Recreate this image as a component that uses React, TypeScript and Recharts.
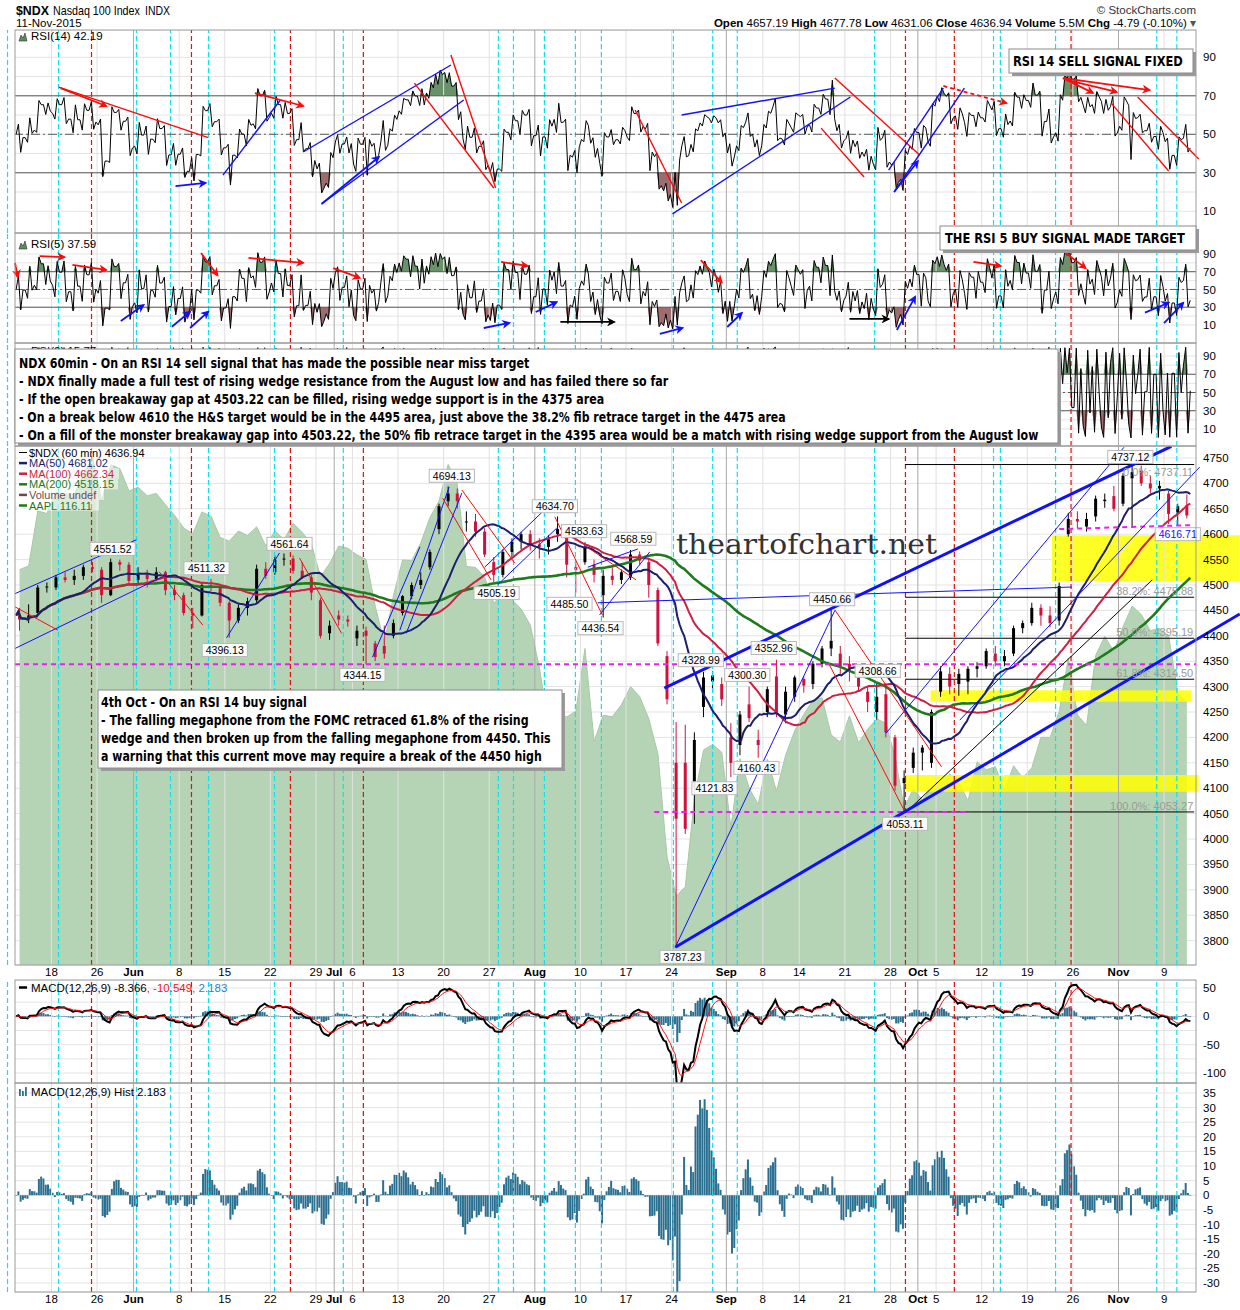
import React from 'react';
import {
  ComposedChart, Line, Area, Bar, XAxis, YAxis, CartesianGrid,
  ReferenceLine, ReferenceArea, ReferenceDot,
} from 'recharts';

// ---------------- DATA (daily sessions, 12-May-2015 .. 11-Nov-2015) ----------------
const dayDates = (
  '05-12 05-13 05-14 05-15 05-18 05-19 05-20 05-21 05-22 05-26 05-27 05-28 05-29 ' +
  '06-01 06-02 06-03 06-04 06-05 06-08 06-09 06-10 06-11 06-12 06-15 06-16 06-17 06-18 06-19 06-22 06-23 06-24 06-25 06-26 06-29 06-30 ' +
  '07-01 07-02 07-06 07-07 07-08 07-09 07-10 07-13 07-14 07-15 07-16 07-17 07-20 07-21 07-22 07-23 07-24 07-27 07-28 07-29 07-30 07-31 ' +
  '08-03 08-04 08-05 08-06 08-07 08-10 08-11 08-12 08-13 08-14 08-17 08-18 08-19 08-20 08-21 08-24 08-25 08-26 08-27 08-28 08-31 ' +
  '09-01 09-02 09-03 09-04 09-08 09-09 09-10 09-11 09-14 09-15 09-16 09-17 09-18 09-21 09-22 09-23 09-24 09-25 09-28 09-29 09-30 ' +
  '10-01 10-02 10-05 10-06 10-07 10-08 10-09 10-12 10-13 10-14 10-15 10-16 10-19 10-20 10-21 10-22 10-23 10-26 10-27 10-28 10-29 10-30 ' +
  '11-02 11-03 11-04 11-05 11-06 11-09 11-10 11-11'
).split(' ');

const opens = [4440,4432,4445,4495,4495,4515,4510,4518,4535,4530,4480,4545,4540,
  4510,4520,4512,4525,4490,4480,4445,4440,4500,4495,4465,4430,4455,4470,4532,4525,4550,4552,4528,4515,4470,4405,
  4440,4432,4395,4410,4385,4380,4400,4445,4478,4500,4535,4610,4665,4680,4625,4625,4605,4545,4520,4565,4585,4600,
  4580,4575,4600,4610,4535,4545,4540,4480,4518,4510,4515,4560,4545,4490,4360,4150,4150,4100,4260,4310,4305,
  4200,4185,4265,4195,4250,4320,4245,4280,4315,4305,4345,4375,4365,4345,4320,4290,4250,4285,4200,4110,4140,
  4170,4150,4290,4325,4305,4310,4335,4340,4365,4350,4365,4415,4425,4455,4440,4430,4600,4630,4615,4635,4665,4675,
  4660,4710,4725,4700,4690,4680,4640,4657];
const highs = [4455,4462,4500,4505,4520,4525,4530,4540,4545,4535,4552,4550,4545,
  4535,4530,4535,4528,4500,4485,4455,4505,4512,4498,4468,4462,4475,4540,4545,4558,4562,4558,4545,4520,4475,4430,
  4450,4440,4420,4418,4390,4420,4432,4480,4505,4525,4570,4660,4694,4690,4645,4640,4612,4555,4570,4592,4605,4608,
  4592,4598,4635,4615,4545,4584,4550,4530,4535,4530,4569,4566,4552,4495,4370,4230,4225,4210,4329,4330,4318,
  4228,4252,4300,4215,4300,4353,4300,4322,4320,4350,4380,4451,4380,4360,4330,4300,4309,4300,4205,4135,4180,
  4185,4255,4340,4338,4335,4340,4348,4375,4380,4372,4420,4430,4465,4462,4458,4505,4642,4645,4642,4676,4680,4695,
  4720,4737,4735,4715,4705,4685,4660,4678];
const lows = [4410,4425,4442,4485,4490,4505,4500,4510,4525,4465,4478,4528,4500,
  4500,4495,4508,4480,4470,4440,4415,4438,4488,4458,4396,4425,4440,4465,4512,4520,4538,4522,4512,4470,4395,4392,
  4420,4418,4380,4344,4350,4355,4395,4440,4472,4492,4530,4600,4655,4650,4605,4595,4555,4505,4515,4555,4570,4568,
  4552,4560,4585,4515,4485,4540,4505,4436,4500,4502,4510,4540,4475,4380,4265,3787,4010,4030,4240,4290,4262,
  4122,4165,4230,4160,4240,4240,4228,4270,4288,4295,4338,4360,4325,4310,4290,4250,4235,4200,4095,4053,4130,
  4135,4140,4280,4285,4282,4285,4318,4335,4340,4340,4360,4405,4420,4420,4417,4420,4595,4612,4605,4625,4652,4645,
  4655,4612,4695,4680,4668,4620,4618,4631];
const closes = [4432,4440,4495,4497,4515,4510,4518,4535,4532,4480,4545,4540,4508,
  4520,4512,4525,4490,4480,4445,4440,4500,4495,4465,4430,4455,4468,4532,4518,4550,4552,4528,4515,4485,4400,4420,
  4432,4428,4410,4400,4358,4365,4425,4478,4500,4510,4565,4655,4680,4665,4625,4605,4560,4520,4565,4585,4600,4580,
  4575,4590,4610,4540,4530,4575,4520,4518,4510,4525,4560,4548,4500,4385,4275,4040,4020,4195,4318,4322,4275,
  4150,4245,4238,4185,4295,4248,4290,4318,4302,4345,4375,4390,4340,4335,4300,4270,4280,4210,4105,4120,4170,
  4180,4250,4330,4300,4325,4335,4340,4370,4350,4360,4415,4425,4455,4440,4425,4498,4630,4625,4630,4670,4668,4650,
  4715,4722,4700,4690,4695,4640,4655,4637];
const aaplCloses = [125.01,125.26,128.95,128.77,130.19,130.07,130.06,131.39,132.54,129.62,132.04,131.78,130.28,
  130.54,129.96,130.12,129.36,128.65,127.80,127.42,128.88,128.59,127.17,126.92,127.60,127.30,127.88,126.60,127.61,127.03,128.11,127.50,126.75,124.53,125.43,
  126.60,126.44,126.00,125.69,122.57,120.07,123.28,125.66,125.61,126.82,128.51,129.62,132.07,130.75,125.22,125.16,124.50,122.77,123.38,122.99,122.37,121.30,
  118.44,114.64,115.40,115.13,115.52,119.72,113.49,115.24,115.15,115.96,117.16,116.50,115.01,112.65,105.76,103.12,103.74,109.69,112.92,113.29,112.76,
  107.72,112.34,110.37,109.27,112.31,110.15,112.57,114.21,115.31,116.28,116.41,113.92,113.45,115.21,113.40,114.32,115.00,114.71,112.44,109.06,110.30,
  109.58,110.38,110.78,111.31,110.78,109.50,112.12,111.60,111.79,110.21,111.86,111.04,111.73,113.77,113.76,115.50,119.08,115.28,114.55,119.27,120.53,119.50,
  121.18,122.57,122.00,120.92,121.06,120.57,116.77,116.11];

// date axis (session index where the label sits) and labels
const dateTicks = [4,9,13,18,23,28,33,35,37,42,47,52,57,62,67,72,78,82,86,91,96,99,101,106,111,116,121,126];
const dateTickLabels = ['18','26','Jun','8','15','22','29','Jul','6','13','20','27','Aug','10','17','24','Sep','8','14','21','28','Oct','5','12','19','26','Nov','9'];
const monthTicks = [13,35,57,78,99,121];
const cyanMarks = [-0.82,4.77,13.32,17.05,21.22,28.45,36.0,53.0,54.66,58.05,61.45,64.3,72.2,76.5,79.2,94.25,107.3,108.05,114.1,125.2,127.4];
const redMarks = [8.39,19.35,30.2,38.2,97.64,103.0,115.8];

const priceTicks = [3800,3850,3900,3950,4000,4050,4100,4150,4200,4250,4300,4350,4400,4450,4500,4550,4600,4650,4700,4750];
const rsiTicks = [10,20,30,40,50,60,70,80,90];
const macdTicks = [-100,-75,-50,-25,0,25,50];
const histTicks = [-30,-25,-20,-15,-10,-5,0,5,10,15,20,25,30,35];

// annotations (session index, value); k: r=red b=blue k=black, a=arrow, d=dashed
const wedgeLines = [
  { x1: 72.4, y1: 3787, x2: 134.3, y2: 4443, k: 'b' },
  { x1: 71.2, y1: 4297, x2: 126.8, y2: 4773, k: 'b' },
];
const mainThinLines = [
  { x1: 72.4, y1: 3787, x2: 89.9, y2: 4450, k: 'b' },
  { x1: 0, y1: 4483, x2: 13.3, y2: 4589, k: 'b' },
  { x1: 0, y1: 4375, x2: 16.6, y2: 4520, k: 'b' },
  { x1: 23.2, y1: 4396, x2: 29.0, y2: 4563, k: 'b' },
  { x1: 39.2, y1: 4358, x2: 44.4, y2: 4575, k: 'b' },
  { x1: 42.2, y1: 4411, x2: 47.6, y2: 4693, k: 'b' },
  { x1: 42.9, y1: 4405, x2: 49.0, y2: 4681, k: 'b' },
  { x1: 51.5, y1: 4535, x2: 58.3, y2: 4652, k: 'b' },
  { x1: 52.9, y1: 4500, x2: 59.4, y2: 4612, k: 'b' },
  { x1: 62.8, y1: 4535, x2: 68.3, y2: 4571, k: 'b' },
  { x1: 64.1, y1: 4441, x2: 69.6, y2: 4565, k: 'b' },
  { x1: 63.9, y1: 4465, x2: 115.9, y2: 4496, k: 'b' },
  { x1: 95.5, y1: 4208, x2: 121.6, y2: 4771, k: 'b' },
  { x1: 103.6, y1: 4234, x2: 129.9, y2: 4732, k: 'b' },
  { x1: 97.6, y1: 4051, x2: 124.7, y2: 4510, k: 'k' },
  { x1: 0, y1: 4457, x2: 4.7, y2: 4411, k: 'r' },
  { x1: 15.8, y1: 4526, x2: 20.6, y2: 4421, k: 'r' },
  { x1: 31.2, y1: 4553, x2: 35.8, y2: 4405, k: 'r' },
  { x1: 46.9, y1: 4671, x2: 52.2, y2: 4510, k: 'r' },
  { x1: 49.0, y1: 4687, x2: 54.8, y2: 4543, k: 'r' },
  { x1: 59.2, y1: 4634, x2: 64.4, y2: 4441, k: 'r' },
  { x1: 62.7, y1: 4575, x2: 68.1, y2: 4510, k: 'r' },
  { x1: 89.9, y1: 4451, x2: 101.6, y2: 4142, k: 'r' },
  { x1: 89.3, y1: 4343, x2: 97.6, y2: 4053, k: 'r' },
];
const magentaLines = [
  { x1: 0, y1: 4344.15, x2: 129.5, y2: 4344.15 },
  { x1: 70.1, y1: 4053, x2: 104.7, y2: 4053 },
  { x1: 114.5, y1: 4610, x2: 129.3, y2: 4618 },
];
const yellowZones = [
  { x1: 113.7, x2: 134.3, y1: 4508, y2: 4598 },
  { x1: 100.4, x2: 129.0, y1: 4270, y2: 4293 },
  { x1: 97.6, x2: 129.8, y1: 4093, y2: 4126 },
];
const fibStart = 97.6, fibEnd = 129.3;
const fibLevels = [4737.11, 4475.88, 4395.19, 4314.50, 4053.27];
const fibTexts = ['0.0%: 4737.11', '38.2%: 4475.88', '50.0%: 4395.19', '61.8%: 4314.50', '100.0%: 4053.27'];
const fibBelow = [true, false, false, false, false];
const priceTags = [
  { x: 10.7, y: 4571, t: '4551.52' }, { x: 21.0, y: 4533, t: '4511.32' }, { x: 23.0, y: 4372, t: '4396.13' },
  { x: 30.1, y: 4581, t: '4561.64' }, { x: 38.1, y: 4323, t: '4344.15' }, { x: 47.9, y: 4715, t: '4694.13' },
  { x: 52.8, y: 4484, t: '4505.19' }, { x: 59.2, y: 4655, t: '4634.70' }, { x: 62.4, y: 4606, t: '4583.63' },
  { x: 60.8, y: 4463, t: '4485.50' }, { x: 64.2, y: 4415, t: '4436.54' }, { x: 67.8, y: 4591, t: '4568.59' },
  { x: 75.2, y: 4352, t: '4328.99' }, { x: 80.3, y: 4323, t: '4300.30' }, { x: 83.2, y: 4376, t: '4352.96' },
  { x: 89.6, y: 4472, t: '4450.66' }, { x: 94.6, y: 4331, t: '4308.66' }, { x: 81.3, y: 4140, t: '4160.43' },
  { x: 76.7, y: 4100, t: '4121.83' }, { x: 73.2, y: 3768, t: '3787.23' }, { x: 97.6, y: 4030, t: '4053.11' },
  { x: 122.3, y: 4752, t: '4737.12' },
];
const rsi14Marks = [
  { x1: 4.8, y1: 74.5, x2: 21.2, y2: 48.3, k: 'r' },
  { x1: 5.0, y1: 74.0, x2: 10.0, y2: 64.7, k: 'r', a: 1 },
  { x1: 17.6, y1: 23.1, x2: 20.9, y2: 24.7, k: 'b', a: 1 },
  { x1: 22.8, y1: 28.8, x2: 29.1, y2: 67.8, k: 'b' },
  { x1: 26.3, y1: 71.4, x2: 31.6, y2: 64.7, k: 'r', a: 1 },
  { x1: 31.6, y1: 40.8, x2: 47.8, y2: 86.0, k: 'b' },
  { x1: 33.6, y1: 13.8, x2: 49.2, y2: 67.8, k: 'b' },
  { x1: 33.6, y1: 13.8, x2: 39.9, y2: 38.2, k: 'b', a: 1 },
  { x1: 47.8, y1: 91.2, x2: 52.7, y2: 22.1, k: 'r' },
  { x1: 43.8, y1: 76.6, x2: 52.5, y2: 22.1, k: 'r' },
  { x1: 68.0, y1: 62.6, x2: 73.1, y2: 14.3, k: 'r' },
  { x1: 72.1, y1: 8.6, x2: 91.6, y2: 69.4, k: 'b' },
  { x1: 73.1, y1: 60.0, x2: 89.9, y2: 74.0, k: 'b' },
  { x1: 89.9, y1: 79.2, x2: 99.2, y2: 39.2, k: 'r' },
  { x1: 88.4, y1: 53.2, x2: 93.1, y2: 27.8, k: 'r' },
  { x1: 95.8, y1: 31.4, x2: 101.8, y2: 74.0, k: 'b' },
  { x1: 96.4, y1: 20.0, x2: 104.1, y2: 74.0, k: 'b' },
  { x1: 96.4, y1: 20.0, x2: 99.0, y2: 36.0, k: 'b', a: 1 },
  { x1: 101.8, y1: 75.1, x2: 108.7, y2: 66.2, k: 'r', a: 1, d: 1 },
  { x1: 114.9, y1: 79.2, x2: 124.4, y2: 73.0, k: 'r', a: 1 },
  { x1: 114.9, y1: 79.2, x2: 118.2, y2: 71.5, k: 'r', a: 1 },
  { x1: 115.5, y1: 78.0, x2: 120.8, y2: 72.0, k: 'r', a: 1 },
  { x1: 120.2, y1: 66.2, x2: 126.5, y2: 30.9, k: 'r' },
  { x1: 123.1, y1: 69.4, x2: 129.8, y2: 37.1, k: 'r' },
];
const rsi5Marks = [
  { x1: 0, y1: 80, x2: 0.3, y2: 64, k: 'r', a: 1 },
  { x1: 2.7, y1: 87.5, x2: 5.4, y2: 86.5, k: 'r', a: 1 },
  { x1: 6.3, y1: 77.6, x2: 10.0, y2: 72, k: 'r', a: 1 },
  { x1: 11.6, y1: 14.5, x2: 14.1, y2: 32.5, k: 'b', a: 1 },
  { x1: 17.2, y1: 8, x2: 19.2, y2: 25, k: 'b', a: 1 },
  { x1: 19.2, y1: 6.6, x2: 21.2, y2: 25, k: 'b', a: 1 },
  { x1: 20.4, y1: 91, x2: 22.2, y2: 66, k: 'r', a: 1 },
  { x1: 25.6, y1: 85.5, x2: 31.6, y2: 80, k: 'r', a: 1 },
  { x1: 34.9, y1: 74, x2: 37.8, y2: 63, k: 'r', a: 1 },
  { x1: 51.4, y1: 6.6, x2: 54.2, y2: 12.3, k: 'b', a: 1 },
  { x1: 53.3, y1: 81, x2: 56.2, y2: 76.5, k: 'r', a: 1 },
  { x1: 57.1, y1: 24.6, x2: 59.4, y2: 35.8, k: 'b', a: 1 },
  { x1: 59.8, y1: 13.4, x2: 65.7, y2: 13.4, k: 'k', a: 1 },
  { x1: 70.7, y1: 0, x2: 73.2, y2: 6.6, k: 'b', a: 1 },
  { x1: 75.2, y1: 83, x2: 77.5, y2: 58, k: 'r', a: 1 },
  { x1: 78.1, y1: 7.7, x2: 79.7, y2: 23.5, k: 'b', a: 1 },
  { x1: 91.5, y1: 16.8, x2: 95.8, y2: 16.8, k: 'k', a: 1 },
  { x1: 96.7, y1: 4.4, x2: 98.7, y2: 41.6, k: 'b', a: 1 },
  { x1: 105.1, y1: 81, x2: 108.1, y2: 76.5, k: 'r', a: 1 },
  { x1: 115.1, y1: 92, x2: 117.4, y2: 74, k: 'r', a: 1 },
  { x1: 123.9, y1: 24, x2: 126.5, y2: 35, k: 'b', a: 1 },
  { x1: 126.0, y1: 12, x2: 128.1, y2: 35, k: 'b', a: 1 },
];

// ---------------- DERIVED (indicators computed from the sessions) ----------------
const N = closes.length;
const XMAX = 129.5;
const STEPS = 4; // O, H/L, L/H, C per session ~ 7 hourly bars
const H2S = STEPS / 7;

const pathX: number[] = [];
const pathV: number[] = [];
for (let i = 0; i < N; i++) {
  const o = opens[i], h = highs[i], l = lows[i], c = closes[i];
  const seq = c >= o ? [o, l, h, c] : [o, h, l, c];
  for (let j = 0; j < STEPS; j++) { pathX.push(i + (j + 0.5) / STEPS); pathV.push(seq[j]); }
}
function sma(a: number[], n: number) {
  const out: number[] = []; let s = 0;
  for (let k = 0; k < a.length; k++) { s += a[k]; if (k >= n) s -= a[k - n]; out.push(s / Math.min(k + 1, n)); }
  return out;
}
function ema(a: number[], n: number) {
  const al = 2 / (n + 1); const out: number[] = []; let e = a[0];
  for (let k = 0; k < a.length; k++) { e = k === 0 ? a[0] : e + al * (a[k] - e); out.push(e); }
  return out;
}
function rsi(a: number[], p: number) {
  const seedN = Math.min(a.length - 1, 12);
  let m = 0;
  for (let k = 1; k <= seedN; k++) m += Math.abs(a[k] - a[k - 1]);
  m = m / seedN / 2;
  let ag = m, al = m;
  const out: number[] = [50];
  for (let k = 1; k < a.length; k++) {
    const d = a[k] - a[k - 1]; const g = Math.max(d, 0), lo = Math.max(-d, 0);
    ag += (g - ag) / p; al += (lo - al) / p;
    out.push(al === 0 ? (ag === 0 ? 50 : 100) : 100 - 100 / (1 + ag / al));
  }
  return out;
}
const ma50 = sma(pathV, Math.round(50 * H2S));
const ma100 = sma(pathV, Math.round(100 * H2S));
const ma200 = sma(pathV, Math.round(200 * H2S));
const r14 = rsi(pathV, 14 * H2S);
const r5 = rsi(pathV, 5 * H2S);
const r2 = rsi(pathV, 2 * H2S);
const emaF = ema(pathV, 12 * H2S);
const emaS = ema(pathV, 26 * H2S);
const macdV = emaF.map((v, k) => v - emaS[k]);
const sigV = ema(macdV, 9 * H2S);
const histV = macdV.map((v, k) => v - sigV[k]);

const rows: any[] = pathX.map((x, k) => ({
  x, ma50: ma50[k], ma100: ma100[k], ma200: ma200[k],
  r14: r14[k], r14hi: Math.max(r14[k], 70), r14lo: Math.min(r14[k], 30),
  r5: r5[k], r5hi: Math.max(r5[k], 70), r5lo: Math.min(r5[k], 30),
  r2: r2[k], r2hi: Math.max(r2[k], 70), r2lo: Math.min(r2[k], 30),
  macd: macdV[k], sig: sigV[k], hist: histV[k],
}));
for (let i = 0; i < N; i++) {
  rows.push({ x: i + 0.5, date: dayDates[i], candle: [lows[i], highs[i]], o: opens[i], c: closes[i], aapl: aaplCloses[i] });
}
rows.sort((a, b) => a.x - b.x);

// ---------------- STYLE / RENDER ----------------
const F = "'Liberation Sans', Arial, Helvetica, sans-serif";
const NARROW = "'Liberation Sans Narrow','DejaVu Sans Condensed','Liberation Sans',sans-serif";
const segColor: any = { r: '#ff0a0a', b: '#1010ff', k: '#000000' };
const PL = 15; // left margin of every panel

let measureCtx: any = null;
function measureText(text: string, font: string) {
  try {
    if (!measureCtx) measureCtx = document.createElement('canvas').getContext('2d');
    measureCtx.font = font;
    return measureCtx.measureText(text).width;
  } catch (e) { return 0; }
}
function FitText(props: any) {
  const { x, y, text, size, target, family, weight, fill } = props;
  const w = measureText(text, `${weight || 'normal'} ${size}px ${family}`);
  const s = w > 0 ? target / w : 1;
  return (
    <text transform={`translate(${x},${y}) scale(${s.toFixed(4)},1)`} fontFamily={family} fontWeight={weight || 'normal'}
      fontSize={size} fill={fill || '#000'}>{text}</text>
  );
}

const defsEl = (
  <defs>
    {['r', 'b', 'k'].map((k) => (
      <marker key={k} id={'ah-' + k} viewBox="0 0 10 10" refX="8" refY="5" markerWidth="5" markerHeight="5" orient="auto">
        <path d="M0,0 L10,5 L0,10 L3,5 z" fill={segColor[k]} />
      </marker>
    ))}
  </defs>
);

function verticals(prefix: string) {
  const els: any[] = [];
  dateTicks.forEach((t) => els.push(
    <ReferenceLine key={prefix + 'g' + t} x={t} stroke={monthTicks.includes(t) ? '#a9a9a9' : '#e1e1e1'} strokeWidth={1} ifOverflow="visible" />));
  cyanMarks.forEach((t, k) => els.push(
    <ReferenceLine key={prefix + 'c' + k} x={t} stroke="#10e0ee" strokeWidth={1.2} strokeDasharray="5 3" ifOverflow="visible" />));
  redMarks.forEach((t, k) => els.push(
    <ReferenceLine key={prefix + 'r' + k} x={t} stroke="#e01010" strokeWidth={1.2} strokeDasharray="5 3" ifOverflow="visible" />));
  return els;
}

function segs(list: any[], prefix: string, width: number) {
  return list.map((s, i) => (
    <ReferenceLine key={prefix + i} segment={[{ x: s.x1, y: s.y1 }, { x: s.x2, y: s.y2 }]} ifOverflow="visible"
      shape={(p: any) => (
        <line x1={p.x1} y1={p.y1} x2={p.x2} y2={p.y2} stroke={segColor[s.k]} strokeWidth={s.a ? 1.8 : width}
          strokeDasharray={s.d ? '4 3' : undefined} markerEnd={s.a ? `url(#ah-${s.k})` : undefined} />
      )} />
  ));
}

const DateTick = (p: any) => {
  const idx = dateTicks.indexOf(p.payload.value);
  if (idx < 0) return null;
  const bold = monthTicks.includes(p.payload.value);
  return (
    <text x={p.x} y={p.y + 10.5} textAnchor="middle" fontSize={11.5} fontFamily={F}
      fontWeight={bold ? 'bold' : 'normal'} fill="#000">{dateTickLabels[idx]}</text>
  );
};

const Candle = (p: any) => {
  const { x, y, width, height, payload } = p;
  if (!payload || payload.o == null || !isFinite(y) || !isFinite(height)) return null;
  const l = payload.candle[0], h = payload.candle[1];
  const ppu = h > l ? height / (h - l) : 0;
  const cx = x + width / 2;
  const top = y + (h - Math.max(payload.o, payload.c)) * ppu;
  const bot = y + (h - Math.min(payload.o, payload.c)) * ppu;
  const color = payload.c >= payload.o ? '#000000' : '#d2103c';
  return (
    <g>
      <line x1={cx} x2={cx} y1={y} y2={y + height} stroke={color} strokeWidth={1} />
      <rect x={cx - 1.5} y={top} width={3} height={Math.max(1, bot - top)} fill={color} />
    </g>
  );
};

const HistBar = (p: any) => {
  const { x, y, width, height, payload } = p;
  if (!payload || payload.hist == null || !isFinite(y) || !isFinite(height)) return null;
  const cx = x + width / 2;
  const top = Math.min(y, y + height);
  return <rect x={cx - 1} y={top} width={2} height={Math.max(0.6, Math.abs(height))} fill="#2c7091" />;
};

const tagShape = (t: string, blue?: boolean) => (p: any) => {
  const w = t.length * 5.6 + 6;
  return (
    <g>
      <rect x={p.cx - w / 2} y={p.cy - 6.5} width={w} height={13} fill="#ffffff" fillOpacity={0.92} stroke="#b8b8b8" />
      <text x={p.cx} y={p.cy + 3.8} textAnchor="middle" fontSize={10.5} fontFamily={F} fill={blue ? '#1010ff' : '#000'}>{t}</text>
    </g>
  );
};
const fibShape = (t: string, below: boolean) => (p: any) => (
  <text x={p.cx} y={below ? p.cy + 11 : p.cy - 2} textAnchor="end" fontSize={11} fontFamily={F} fill="#9a9a9a">{t}</text>
);

const yTick = { fontSize: 11.5, fill: '#000', fontFamily: F };

function RsiChart(props: any) {
  const { top, height, domain, k, marks, id } = props;
  return (
    <div style={{ position: 'absolute', left: 0, top, width: 1240, height }}>
      <ComposedChart width={1240} height={height} data={rows} margin={{ top: 0, right: 0, bottom: 0, left: PL }}>
        {defsEl}
        <XAxis type="number" dataKey="x" domain={[0, XMAX]} allowDataOverflow hide />
        <YAxis orientation="right" width={44} domain={domain} allowDataOverflow ticks={rsiTicks} interval={0}
          tickFormatter={(v: number) => (v % 20 === 10 ? String(v) : '')} axisLine={false} tickLine={false}
          tickSize={0} tickMargin={7} tick={yTick} />
        <CartesianGrid vertical={false} stroke="#e4e4e4" />
        {verticals(id)}
        <ReferenceLine y={70} stroke="#5a5a5a" strokeWidth={1} />
        <ReferenceLine y={30} stroke="#5a5a5a" strokeWidth={1} />
        <ReferenceLine y={50} stroke="#5a5a5a" strokeWidth={1} strokeDasharray="9 3 2 3" />
        <Area dataKey={k + 'hi'} baseValue={70} fill="#6a926a" fillOpacity={1} stroke="none" connectNulls isAnimationActive={false} />
        <Area dataKey={k + 'lo'} baseValue={30} fill="#9d6c6c" fillOpacity={1} stroke="none" connectNulls isAnimationActive={false} />
        <Line dataKey={k} stroke="#000" strokeWidth={1} dot={false} connectNulls isAnimationActive={false} />
        {segs(marks, id + 'm', 1.4)}
      </ComposedChart>
    </div>
  );
}

function MainChart() {
  return (
    <div style={{ position: 'absolute', left: 0, top: 446, width: 1240, height: 535 }}>
      <ComposedChart width={1240} height={535} data={rows} margin={{ top: 0, right: 0, bottom: 0, left: PL }}>
        {defsEl}
        <XAxis type="number" dataKey="x" domain={[0, XMAX]} allowDataOverflow ticks={dateTicks} interval={0}
          height={16} axisLine={false} tickLine={false} tickSize={0} tickMargin={0} tick={<DateTick />} />
        <YAxis orientation="right" width={44} domain={[3752, 4773.6]} allowDataOverflow ticks={priceTicks} interval={0}
          axisLine={false} tickLine={false} tickSize={0} tickMargin={7} tick={yTick} />
        <YAxis yAxisId="a" hide domain={[98.5, 133.3]} allowDataOverflow />
        <CartesianGrid vertical={false} stroke="#e4e4e4" />
        <Area yAxisId="a" dataKey="aapl" fill="#b5d4b5" fillOpacity={1} stroke="#a8c9a8" strokeWidth={1} connectNulls isAnimationActive={false} />
        {verticals('mn')}
        {yellowZones.map((z, i) => (
          <ReferenceArea key={'y' + i} x1={z.x1} x2={z.x2} y1={z.y1} y2={z.y2} fill="#ffff00" fillOpacity={0.85} stroke="none" ifOverflow="visible" />
        ))}
        {fibLevels.map((v, i) => (
          <ReferenceLine key={'f' + i} segment={[{ x: fibStart, y: v }, { x: fibEnd, y: v }]} stroke="#000" strokeWidth={1} ifOverflow="visible" />
        ))}
        {fibLevels.map((v, i) => (
          <ReferenceDot key={'ft' + i} x={fibEnd - 0.1} y={v} r={0} ifOverflow="visible" shape={fibShape(fibTexts[i], fibBelow[i])} />
        ))}
        <Line dataKey="ma200" stroke="#1d7a1d" strokeWidth={2.6} dot={false} connectNulls isAnimationActive={false} />
        <Line dataKey="ma100" stroke="#cf1e42" strokeWidth={2} dot={false} connectNulls isAnimationActive={false} />
        <Line dataKey="ma50" stroke="#1b1f6e" strokeWidth={2} dot={false} connectNulls isAnimationActive={false} />
        <Bar dataKey="candle" barSize={3} shape={Candle} isAnimationActive={false} />
        {magentaLines.map((m, i) => (
          <ReferenceLine key={'mg' + i} segment={[{ x: m.x1, y: m.y1 }, { x: m.x2, y: m.y2 }]} stroke="#f01ef0" strokeWidth={2} strokeDasharray="5 4" ifOverflow="visible" />
        ))}
        {segs(mainThinLines, 'th', 1)}
        {segs(wedgeLines, 'wd', 3)}
        {priceTags.map((t, i) => (
          <ReferenceDot key={'pt' + i} x={t.x} y={t.y} r={0} ifOverflow="visible" shape={tagShape(t.t)} />
        ))}
        <ReferenceDot x={127.5} y={4600} r={0} ifOverflow="visible" shape={tagShape('4616.71', true)} />
      </ComposedChart>
    </div>
  );
}

function MacdChart() {
  return (
    <div style={{ position: 'absolute', left: 0, top: 980, width: 1240, height: 103 }}>
      <ComposedChart width={1240} height={103} data={rows} margin={{ top: 0, right: 0, bottom: 0, left: PL }}>
        <XAxis type="number" dataKey="x" domain={[0, XMAX]} allowDataOverflow hide />
        <YAxis orientation="right" width={44} domain={[-117.6, 64.1]} allowDataOverflow ticks={macdTicks} interval={0}
          tickFormatter={(v: number) => (v % 50 === 0 ? String(v) : '')} axisLine={false} tickLine={false}
          tickSize={0} tickMargin={7} tick={yTick} />
        <CartesianGrid vertical={false} stroke="#e4e4e4" />
        {verticals('mc')}
        <Bar dataKey="hist" barSize={2} shape={HistBar} isAnimationActive={false} />
        <Line dataKey="macd" stroke="#000" strokeWidth={2} dot={false} connectNulls isAnimationActive={false} />
        <Line dataKey="sig" stroke="#ff1010" strokeWidth={1} dot={false} connectNulls isAnimationActive={false} />
      </ComposedChart>
    </div>
  );
}

function HistChart() {
  return (
    <div style={{ position: 'absolute', left: 0, top: 1083, width: 1240, height: 227 }}>
      <ComposedChart width={1240} height={227} data={rows} margin={{ top: 0, right: 0, bottom: 0, left: PL }}>
        <XAxis type="number" dataKey="x" domain={[0, XMAX]} allowDataOverflow ticks={dateTicks} interval={0}
          height={18} axisLine={false} tickLine={false} tickSize={0} tickMargin={0} tick={<DateTick />} />
        <YAxis orientation="right" width={44} domain={[-33.1, 38.4]} allowDataOverflow ticks={histTicks} interval={0}
          axisLine={false} tickLine={false} tickSize={0} tickMargin={7} tick={yTick} />
        <CartesianGrid vertical={false} stroke="#e4e4e4" />
        {verticals('hs')}
        <Bar dataKey="hist" barSize={2} shape={HistBar} isAnimationActive={false} />
      </ComposedChart>
    </div>
  );
}

const topBoxLines = [
  'NDX 60min - On an RSI 14 sell signal that has made the possible near miss target',
  '- NDX finally made a full test of rising wedge resistance from the August low and has failed there so far',
  '- If the open breakaway gap at 4503.22 can be filled, rising wedge support is in the 4375 area',
  '- On a break below 4610 the H&S target would be in the 4495 area, just above the 38.2% fib retrace target in the 4475 area',
  '- On a fill of the monster breakaway gap into 4503.22, the 50% fib retrace target in the 4395 area would be a match with rising wedge support from the August low',
];
const topBoxWidths = [511, 650, 586, 767, 1020];
const octBoxLines = [
  '4th Oct - On an RSI 14 buy signal',
  '- The falling megaphone from the FOMC retraced 61.8% of the rising',
  'wedge and then broken up from the falling megaphone from 4450. This',
  'a warning that this current move may require a break of the 4450 high',
];
const octBoxWidths = [206, 428, 450, 441];

function Box(props: any) {
  const { x, y, w, h } = props;
  return (
    <g>
      <rect x={x + 3} y={y + 3} width={w} height={h} fill="#9a9a9a" />
      <rect x={x} y={y} width={w} height={h} fill="#ffffff" stroke="#8a8a8a" strokeWidth={1} />
    </g>
  );
}

function Overlay() {
  const legendRows = [
    { t: '$NDX (60 min) 4636.94', c: '#000', w: 146 },
    { t: 'MA(50) 4681.02', c: '#1b1f6e', w: 82 },
    { t: 'MA(100) 4662.34', c: '#cf1e42', w: 88 },
    { t: 'MA(200) 4518.15', c: '#1d7a1d', w: 87 },
    { t: 'Volume undef', c: '#6b4a4a', w: 73 },
    { t: 'AAPL 116.11', c: '#1d7a1d', w: 68 },
  ];
  return (
    <svg width={1240} height={1310} style={{ position: 'absolute', left: 0, top: 0, pointerEvents: 'none' }}>
      {/* header */}
      <FitText x={16} y={15} text="$NDX" size={13.5} target={33} family={F} weight="bold" />
      <FitText x={53} y={15} text="Nasdaq 100 Index" size={12} target={87} family={F} />
      <FitText x={145} y={15} text="INDX" size={12} target={25} family={F} />
      <text x={16} y={27} fontFamily={F} fontSize={11.5}>11-Nov-2015</text>
      <text x={1196} y={14} fontFamily={F} fontSize={11.5} textAnchor="end" fill="#333">© StockCharts.com</text>
      <text x={1196} y={27} fontFamily={F} fontSize={11.5} textAnchor="end">
        <tspan fontWeight="bold">Open</tspan> 4657.19 <tspan fontWeight="bold">High</tspan> 4677.78{' '}
        <tspan fontWeight="bold">Low</tspan> 4631.06 <tspan fontWeight="bold">Close</tspan> 4636.94{' '}
        <tspan fontWeight="bold">Volume</tspan> 5.5M <tspan fontWeight="bold">Chg</tspan> -4.79 (-0.10%) <tspan fill="#555">▾</tspan>
      </text>

      {/* panel frames */}
      {[[30, 203], [233, 110], [343, 103], [446, 519], [980, 103], [1083, 209]].map((r, i) => (
        <rect key={i} x={15} y={r[0]} width={1181} height={r[1]} fill="none" stroke="#9c9c9c" strokeWidth={1} />
      ))}

      {/* panel legends */}
      <path d="M19,41 L21,35 L23,38 L25,33 L27,41 Z" fill="#5e8a5e" stroke="#333" strokeWidth={0.6} />
      <text x={31} y={40} fontFamily={F} fontSize={11.5}>RSI(14) 42.19</text>
      <path d="M19,249 L21,243 L23,246 L25,241 L27,249 Z" fill="#5e8a5e" stroke="#333" strokeWidth={0.6} />
      <text x={31} y={248} fontFamily={F} fontSize={11.5}>RSI(5) 37.59</text>
      <text x={31} y={355} fontFamily={F} fontSize={11.5}>RSI(2) 15.77</text>

      {legendRows.map((r, i) => (
        <g key={i}>
          <rect x={17} y={447 + i * 10.6} width={r.w + 14} height={10.6} fill="#ffffff" fillOpacity={0.55} />
          <line x1={19} x2={27} y1={452.5 + i * 10.6} y2={452.5 + i * 10.6} stroke={r.c} strokeWidth={i === 0 ? 1 : 2.5} />
          <text x={29} y={456.5 + i * 10.6} fontFamily={F} fontSize={11} fill={r.c}>{r.t}</text>
        </g>
      ))}

      <line x1={19} x2={27} y1={987.5} y2={987.5} stroke="#000" strokeWidth={2.5} />
      <text x={31} y={992} fontFamily={F} fontSize={11.5}>
        MACD(12,26,9) -8.366<tspan fill="#ff1010">, -10.549</tspan><tspan fill="#2a7fd0">, 2.183</tspan>
      </text>
      <g fill="#2c7091">
        <rect x={19} y={1089} width={1.8} height={7} /><rect x={22} y={1091} width={1.8} height={5} />
        <rect x={25} y={1087} width={1.8} height={9} />
      </g>
      <text x={31} y={1096} fontFamily={F} fontSize={11.5}>MACD(12,26,9) Hist 2.183</text>

      {/* watermark */}
      <FitText x={676} y={554} text="theartofchart.net" size={28} target={261}
        family="'DejaVu Serif','Liberation Serif',serif" weight="normal" fill="#333" />

      {/* comment boxes */}
      <Box x={15} y={349} w={1043} h={94} />
      {topBoxLines.map((t, i) => (
        <FitText key={i} x={19} y={368 + i * 18} text={t} size={13.5} target={topBoxWidths[i]} family={NARROW} weight="bold" />
      ))}
      <Box x={98} y={690} w={464} h={78} />
      {octBoxLines.map((t, i) => (
        <FitText key={i} x={101} y={707 + i * 18} text={t} size={13.5} target={octBoxWidths[i]} family={NARROW} weight="bold" />
      ))}
      <Box x={1009} y={49} w={184} h={24} />
      <FitText x={1013} y={66} text="RSI 14 SELL SIGNAL FIXED" size={14.5} target={170} family={NARROW} weight="bold" />
      <Box x={940} y={226} w={256} h={24} />
      <FitText x={945} y={243} text="THE RSI 5 BUY SIGNAL MADE TARGET" size={14.5} target={240} family={NARROW} weight="bold" />
    </svg>
  );
}

export default function App() {
  return (
    <div style={{ position: 'relative', width: 1240, height: 1310, background: '#ffffff', overflow: 'hidden', fontFamily: F }}>
      <style>{'body{margin:0;}'}</style>
      <RsiChart id="r14" top={30} height={203} domain={[-1.3, 104.2]} k="r14" marks={rsi14Marks} />
      <RsiChart id="r5" top={233} height={110} domain={[-10.3, 113.6]} k="r5" marks={rsi5Marks} />
      <RsiChart id="r2" top={343} height={103} domain={[-8.7, 104.3]} k="r2" marks={[]} />
      <MainChart />
      <MacdChart />
      <HistChart />
      <Overlay />
    </div>
  );
}
